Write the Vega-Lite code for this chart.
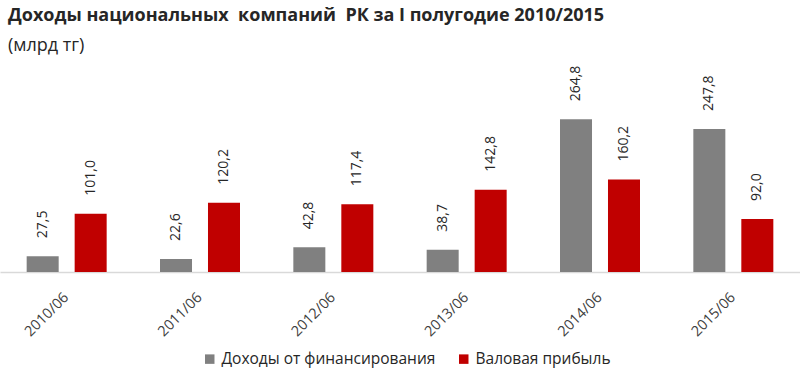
{
  "$schema": "https://vega.github.io/schema/vega-lite/v6.json",
  "width": 800,
  "height": 173,
  "autosize": {"type": "none"},
  "padding": {"top": 99, "left": 0, "right": 0, "bottom": 102},
  "background": "white",
  "config": {
    "view": {"stroke": null},
    "font": "Open Sans",
    "locale": {"number": {"decimal": ",", "thousands": " ", "grouping": [3], "currency": ["", ""]}}
  },
  "title": {
    "text": "Доходы национальных \u00a0компаний \u00a0РК за I полугодие 2010/2015",
    "subtitle": "(млрд тг)",
    "anchor": "start",
    "frame": "group",
    "dx": 8,
    "offset": 11,
    "font": "Open Sans",
    "fontSize": 18,
    "fontWeight": "bold",
    "color": "#262626",
    "subtitleFont": "Open Sans",
    "subtitleFontSize": 18,
    "subtitleColor": "#262626",
    "subtitlePadding": 12
  },
  "data": {
    "values": [
      {"period": "2010/06", "series": "Доходы от финансирования", "value": 27.5},
      {"period": "2010/06", "series": "Валовая прибыль", "value": 101.0},
      {"period": "2011/06", "series": "Доходы от финансирования", "value": 22.6},
      {"period": "2011/06", "series": "Валовая прибыль", "value": 120.2},
      {"period": "2012/06", "series": "Доходы от финансирования", "value": 42.8},
      {"period": "2012/06", "series": "Валовая прибыль", "value": 117.4},
      {"period": "2013/06", "series": "Доходы от финансирования", "value": 38.7},
      {"period": "2013/06", "series": "Валовая прибыль", "value": 142.8},
      {"period": "2014/06", "series": "Доходы от финансирования", "value": 264.8},
      {"period": "2014/06", "series": "Валовая прибыль", "value": 160.2},
      {"period": "2015/06", "series": "Доходы от финансирования", "value": 247.8},
      {"period": "2015/06", "series": "Валовая прибыль", "value": 92.0}
    ]
  },
  "encoding": {
    "x": {
      "field": "period",
      "type": "nominal",
      "title": null,
      "scale": {"paddingInner": 0.4, "paddingOuter": 0.2},
      "axis": {
        "labelAngle": -45,
        "labelFontSize": 14.5,
        "labelColor": "#404040",
        "labelFont": "Open Sans",
        "ticks": false,
        "domainColor": "#d9d9d9",
        "domainWidth": 1.5,
        "labelPadding": 18,
        "labelOffset": -5
      }
    },
    "xOffset": {
      "field": "series",
      "type": "nominal",
      "sort": ["Доходы от финансирования", "Валовая прибыль"],
      "scale": {"paddingInner": 0.333, "paddingOuter": 0}
    },
    "y": {
      "field": "value",
      "type": "quantitative",
      "scale": {"domain": [0, 300]},
      "axis": null
    }
  },
  "layer": [
    {
      "mark": {"type": "bar"},
      "encoding": {
        "color": {
          "field": "series",
          "type": "nominal",
          "sort": ["Доходы от финансирования", "Валовая прибыль"],
          "scale": {"domain": ["Доходы от финансирования", "Валовая прибыль"], "range": ["#808080", "#c00000"]},
          "legend": {
            "title": null,
            "orient": "none",
            "direction": "horizontal",
            "legendX": 202,
            "legendY": 252,
            "symbolType": "square",
            "symbolSize": 90,
            "symbolStrokeWidth": 0,
            "labelFontSize": 15.5,
            "labelFont": "Open Sans",
            "labelColor": "#262626",
            "labelLimit": 0,
            "columnPadding": 20,
            "labelOffset": 4
          }
        }
      }
    },
    {
      "mark": {"type": "text", "angle": 270, "align": "left", "baseline": "middle", "dx": 18, "fontSize": 14, "color": "#262626"},
      "encoding": {
        "text": {"field": "value", "type": "quantitative", "format": ".1f"}
      }
    }
  ]
}
